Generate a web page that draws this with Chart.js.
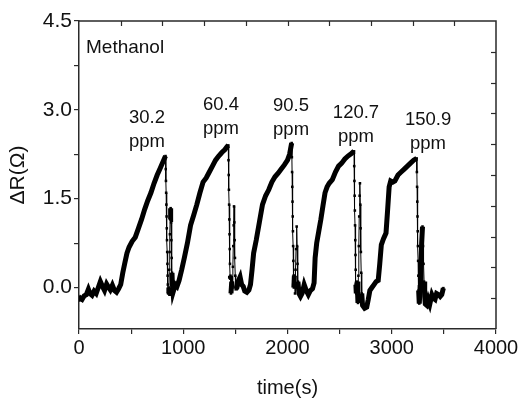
<!DOCTYPE html>
<html>
<head>
<meta charset="utf-8">
<script src="https://cdn.jsdelivr.net/npm/chart.js@4.4.1/dist/chart.umd.min.js"></script>
<style>
  html, body { margin: 0; padding: 0; background: #fff; }
  #wrap { width: 521px; height: 400px; }
</style>
</head>
<body>
<div id="wrap"><canvas id="grafico" width="521" height="400"></canvas></div>
<script>
// time (s) and resistance change (ohm), one line per stretch of the trace
const times = [
  0, 15, 30, 50, 70, 90, 105, 125, 145, 165, 185, 205, 225, 245, 265, 285, 300, 320, 340, 360, 380,
  400, 420, 440, 460, 480, 510, 540, 570, 600, 630, 660, 690, 720, 750, 780, 810, 830,
  832, 834, 836, 838, 840, 842, 844, 846, 848, 850, 852, 855, 862,
  866, 869, 872, 875, 879, 883, 886, 889, 892, 896, 902, 912, 925, 940,
  960, 985, 1010, 1040, 1070, 1100, 1130, 1160, 1190, 1220, 1250, 1280, 1310, 1340, 1370, 1400, 1420, 1432,
  1434, 1436, 1438, 1440, 1442, 1444, 1446, 1448, 1450, 1453, 1458, 1465, 1472,
  1476, 1480, 1484, 1487, 1490, 1493, 1496, 1499, 1503, 1515, 1530, 1545, 1560, 1575, 1590, 1610, 1630, 1645,
  1660, 1675, 1700, 1730, 1760, 1790, 1820, 1850, 1880, 1910, 1940, 1970, 2000, 2020, 2040,
  2042, 2044, 2046, 2048, 2050, 2052, 2054, 2056, 2058, 2061, 2066, 2072,
  2077, 2082, 2088, 2092, 2096, 2100, 2110, 2125, 2140, 2160, 2180, 2200, 2220, 2240, 2255,
  2265, 2280, 2300, 2320, 2340, 2360, 2380, 2400, 2430, 2460, 2490, 2520, 2550, 2580, 2610, 2638,
  2640, 2642, 2644, 2646, 2648, 2650, 2652, 2654, 2656, 2660, 2668, 2676,
  2680, 2684, 2688, 2692, 2695, 2698, 2701, 2704, 2707, 2712, 2720, 2740, 2760, 2775, 2790, 2810, 2830, 2850, 2870,
  2885, 2900, 2920, 2945, 2960, 2975, 2990, 3010, 3030, 3060, 3090, 3120, 3150, 3180, 3210, 3239,
  3241, 3243, 3245, 3247, 3249, 3251, 3253, 3255, 3258, 3264, 3272,
  3280, 3287, 3295, 3300, 3305, 3310, 3316, 3322, 3335, 3350, 3365, 3385, 3400, 3415, 3430, 3450, 3465, 3480, 3495
];
const deltaR = [
  -0.22, -0.18, -0.2, -0.14, -0.12, -0.03, -0.1, -0.13, -0.06, -0.1, 0.0, 0.1, 0.02, -0.05, 0.06, 0.0, -0.04, 0.04, -0.05, -0.08, -0.02,
  0.05, 0.25, 0.42, 0.58, 0.68, 0.78, 0.85, 1.0, 1.15, 1.32, 1.47, 1.6, 1.76, 1.9, 2.02, 2.14, 2.22,
  2.0, 1.8, 1.6, 1.4, 1.2, 1.0, 0.8, 0.6, 0.4, 0.2, 0.05, -0.1, 0.0,
  0.3, 0.6, 0.9, 1.15, 1.34, 1.1, 0.8, 0.5, 0.25, 0.05, -0.08, -0.02, 0.05, 0.02,
  0.12, 0.3, 0.5, 0.75, 1.05, 1.22, 1.4, 1.6, 1.78, 1.85, 1.95, 2.05, 2.15, 2.22, 2.28, 2.33, 2.38, 2.4,
  2.15, 1.9, 1.65, 1.4, 1.15, 0.9, 0.65, 0.4, 0.15, 0.2, -0.1, 0.1, 0.0,
  0.35, 0.7, 1.05, 1.37, 1.1, 0.8, 0.5, 0.2, -0.03, 0.0, 0.12, 0.18, 0.05, 0.02, -0.06, -0.08, -0.04, 0.05,
  0.3, 0.58, 0.8, 1.1, 1.4, 1.55, 1.65, 1.78, 1.87, 1.93, 2.0, 2.07, 2.15, 2.25, 2.44,
  2.2, 1.95, 1.7, 1.45, 1.2, 0.95, 0.7, 0.45, 0.2, 0.0, 0.2, -0.1,
  0.3, 0.65, 1.03, 0.7, 0.4, 0.1, -0.1, -0.15, -0.1, 0.05, -0.05, -0.12, -0.05, -0.02, 0.08,
  0.5, 0.75, 0.95, 1.15, 1.38, 1.6, 1.7, 1.76, 1.82, 1.95, 2.05, 2.1, 2.17, 2.22, 2.26, 2.3,
  2.05, 1.8, 1.55, 1.3, 1.05, 0.8, 0.55, 0.3, 0.05, -0.1, 0.1, -0.26,
  0.2, 0.7, 1.2, 1.55, 1.76, 1.4, 1.0, 0.6, 0.25, -0.1, -0.3, -0.35, -0.33, -0.2, -0.05, 0.0, 0.05, 0.1, 0.12,
  0.4, 0.72, 0.82, 0.92, 1.3, 1.7, 1.8, 1.78, 1.8, 1.9, 1.95, 2.0, 2.05, 2.1, 2.15, 2.18,
  1.95, 1.7, 1.45, 1.2, 0.95, 0.7, 0.45, 0.2, -0.05, -0.27, 0.0,
  0.4, 0.75, 1.03, 0.7, 0.4, 0.1, -0.15, -0.28, -0.3, -0.2, -0.28, -0.12, -0.18, -0.2, -0.1, -0.12, -0.15, -0.12, -0.01
];

const xTickValues = [0, 500, 1000, 1500, 2000, 2500, 3000, 3500, 4000];
const yTickValues = [0, 0.75, 1.5, 2.25, 3.0, 3.75, 4.5];
const topTickValues = [400, 800, 1200, 1600, 2000, 2400, 2800, 3200, 3600];
const rightTickValues = [-0.18, 0.34, 0.86, 1.38, 1.9, 2.42, 2.94, 3.46, 3.98];

const peakLabels = ['30.2', '60.4', '90.5', '120.7', '150.9'];
const peakLabelTimes = [652, 1362, 2034, 2657, 3348];
const peakLabelValues = [2.87, 3.08, 3.07, 2.95, 2.83];

const FONT = 'Arial, "Liberation Sans", sans-serif';
const INK = '#111';
const AXIS = '#2a2a2a';

const points = times.map((t, i) => ({ x: t, y: deltaR[i] }));

// frame, inward ticks on top/right, gas label and ppm labels
const decorations = {
    id: 'decorations',
    afterDraw(chart) {
        const { ctx, chartArea: a, scales } = chart;
        ctx.save();
        ctx.strokeStyle = AXIS;
        ctx.lineWidth = 1.5;
        ctx.beginPath();
        ctx.moveTo(a.left, a.top);
        ctx.lineTo(a.right, a.top);
        ctx.lineTo(a.right, a.bottom);
        ctx.stroke();

        ctx.lineWidth = 1.2;
        topTickValues.forEach(v => {
            const px = Math.round(scales.x.getPixelForValue(v)) + 0.5;
            ctx.beginPath();
            ctx.moveTo(px, a.top);
            ctx.lineTo(px, a.top + 5);
            ctx.stroke();
        });
        rightTickValues.forEach(v => {
            const py = Math.round(scales.y.getPixelForValue(v)) + 0.5;
            ctx.beginPath();
            ctx.moveTo(a.right, py);
            ctx.lineTo(a.right - 5, py);
            ctx.stroke();
        });

        ctx.fillStyle = INK;
        ctx.font = '19px ' + FONT;
        ctx.textAlign = 'left';
        ctx.textBaseline = 'middle';
        ctx.fillText('Methanol', a.left + 7, a.top + 27);

        ctx.font = '18.5px ' + FONT;
        ctx.textAlign = 'center';
        peakLabels.forEach((txt, i) => {
            const px = scales.x.getPixelForValue(peakLabelTimes[i]);
            const py = scales.y.getPixelForValue(peakLabelValues[i]);
            ctx.fillText(txt, px, py);
            ctx.fillText('ppm', px, py + 24);
        });
        ctx.restore();
    }
};

const ctx = document.getElementById('grafico').getContext('2d');
new Chart(ctx, {
    type: 'line',
    data: {
        datasets: [{
            data: points,
            borderColor: '#000',
            backgroundColor: '#000',
            borderWidth: 5,
            pointStyle: 'rect',
            pointRadius: 1.8,
            pointBorderWidth: 0,
            tension: 0,
            segment: {
                // steep drops/spikes are thin dotted strokes in the original
                borderWidth: c => {
                    const dx = c.p1.parsed.x - c.p0.parsed.x;
                    const dy = c.p1.parsed.y - c.p0.parsed.y;
                    return Math.abs(dy / dx) > 0.05 ? 1 : 5;
                }
            }
        }]
    },
    options: {
        responsive: false,
        animation: false,
        layout: { padding: { left: 0, right: 25, top: 21, bottom: 0 } },
        plugins: {
            legend: { display: false },
            tooltip: { enabled: false }
        },
        scales: {
            x: {
                type: 'linear',
                min: 0,
                max: 4000,
                afterBuildTicks: s => { s.ticks = xTickValues.map(v => ({ value: v })); },
                afterFit: s => { s.height = 71; },
                ticks: {
                    color: INK,
                    font: { family: FONT, size: 20 },
                    padding: 2,
                    maxRotation: 0,
                    autoSkip: false,
                    callback: v => (v % 1000 === 0 ? String(v) : '')
                },
                grid: { drawOnChartArea: false, color: AXIS, lineWidth: 1.2, tickLength: 5 },
                border: { color: AXIS, width: 1.5 },
                title: { display: true, text: 'time(s)', color: INK, font: { family: FONT, size: 20 }, padding: { top: 1, bottom: 0 } }
            },
            y: {
                min: -0.7,
                max: 4.5,
                afterBuildTicks: s => { s.ticks = yTickValues.map(v => ({ value: v })); },
                afterFit: s => { s.width = 79; },
                ticks: {
                    color: INK,
                    font: { family: FONT, size: 21 },
                    padding: 2,
                    autoSkip: false,
                    callback: v => (Math.abs(v % 1.5) < 1e-9 ? v.toFixed(1) : '')
                },
                grid: { drawOnChartArea: false, color: AXIS, lineWidth: 1.2, tickLength: 5 },
                border: { color: AXIS, width: 1.5 },
                title: { display: true, text: 'ΔR(Ω)', color: INK, font: { family: FONT, size: 21 }, padding: { top: 6, bottom: 0 } }
            }
        }
    },
    plugins: [decorations]
});
</script>
</body>
</html>
